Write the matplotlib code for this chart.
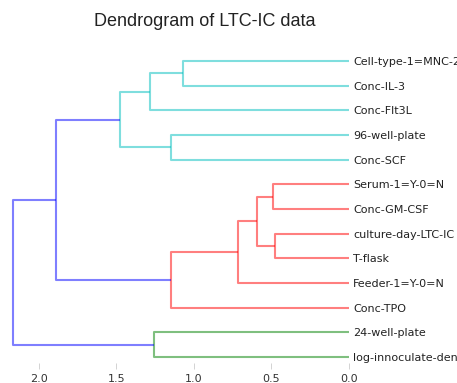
import matplotlib
matplotlib.use("Agg")
import matplotlib.pyplot as plt

# Leaves listed bottom to top, as the dendrogram lays them out
leaves = [
    "log-innoculate-density",
    "24-well-plate",
    "Conc-TPO",
    "Feeder-1=Y-0=N",
    "T-flask",
    "culture-day-LTC-IC",
    "Conc-GM-CSF",
    "Serum-1=Y-0=N",
    "Conc-SCF",
    "96-well-plate",
    "Conc-Flt3L",
    "Conc-IL-3",
    "Cell-type-1=MNC-2=CD34",
]

# Merge steps: (left, right, distance). Integers refer to earlier clusters
# numbered after the leaves (13, 14, ...), strings to leaves.
merges = [
    ("log-innoculate-density", "24-well-plate", 1.26),   # 13
    ("T-flask", "culture-day-LTC-IC", 0.475),             # 14
    ("Conc-GM-CSF", "Serum-1=Y-0=N", 0.488),              # 15
    (14, 15, 0.595),                                      # 16
    ("Feeder-1=Y-0=N", 16, 0.718),                        # 17
    ("Conc-TPO", 17, 1.148),                              # 18
    ("Conc-SCF", "96-well-plate", 1.15),                  # 19
    ("Conc-IL-3", "Cell-type-1=MNC-2=CD34", 1.07),        # 20
    ("Conc-Flt3L", 20, 1.285),                            # 21
    (19, 21, 1.48),                                       # 22
    (18, 22, 1.89),                                       # 23
    (13, 23, 2.17),                                       # 24
]

xticks = [2.0, 1.5, 1.0, 0.5, 0.0]

palette = ["g", "r", "c"]
above_color = "b"
threshold = 0.7 * max(m[2] for m in merges)

n = len(leaves)


def key(node):
    return node if isinstance(node, int) else leaves.index(node)


# y position and height of every node
ypos = {i: 10 * i + 5 for i in range(n)}
height = {i: 0.0 for i in range(n)}
children = {}
for k, (a, b, d) in enumerate(merges):
    ia, ib = key(a), key(b)
    children[n + k] = (ia, ib)
    ypos[n + k] = (ypos[ia] + ypos[ib]) / 2
    height[n + k] = d

# colour each flat cluster below the threshold, bottom cluster first
node_color = {}
roots = []
for idx, (ia, ib) in children.items():
    if height[idx] >= threshold:
        roots += [c for c in (ia, ib) if c >= n and height[c] < threshold]
roots.sort(key=lambda c: ypos[c])


def paint(idx, col):
    if idx < n:
        return
    node_color[idx] = col
    for c in children[idx]:
        paint(c, col)


for i, r in enumerate(roots):
    paint(r, palette[i % len(palette)])

fig = plt.figure(figsize=(4.57, 3.83), dpi=100)
ax = fig.add_axes([0.0, 1 - 369.4 / 383, 349 / 457, 320.7 / 383])

for idx, (ia, ib) in children.items():
    d = height[idx]
    ax.plot([height[ia], d, d, height[ib]],
            [ypos[ia], ypos[ia], ypos[ib], ypos[ib]],
            color=node_color.get(idx, above_color), lw=1.5, alpha=0.5,
            solid_capstyle="butt")

ax.set_xlim(349 / 155, 0)
ax.set_ylim(0, 10 * n)
ax.set_xticks(xticks)
ax.set_xticklabels([f"{t:.1f}" for t in xticks], fontsize=8, color="#333333")
ax.set_yticks([ypos[i] for i in range(n)])
ax.set_yticklabels(leaves, fontsize=8, color="#222222")
ax.yaxis.tick_right()
ax.tick_params(axis="y", length=0, pad=3)
ax.tick_params(axis="x", direction="in", length=4, width=0.6,
               color="#cccccc", pad=3)
for s in ax.spines.values():
    s.set_visible(False)

fig.text(205 / 457, 1 - 21 / 383, "Dendrogram of LTC-IC data",
         ha="center", va="center", fontsize=13, family="Liberation Sans",
         color="#222222")

fig.savefig("out.png", dpi=100)
